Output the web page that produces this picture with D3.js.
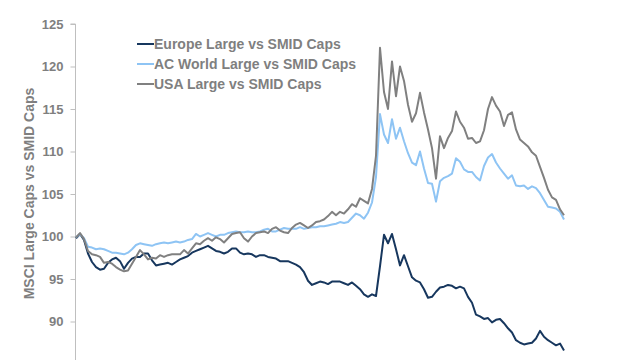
<!DOCTYPE html>
<html><head><meta charset="utf-8">
<script src="https://cdn.jsdelivr.net/npm/d3@7"></script>
<style>body{margin:0;background:#fff}svg{display:block}text{font-family:"Liberation Sans",Arial,sans-serif;font-weight:bold;fill:#7f7f7f}</style>
</head><body><svg id="c" width="640" height="360"></svg>
<script>
const seriesNames = ["Europe Large vs SMID Caps","AC World Large vs SMID Caps","USA Large vs SMID Caps"];
const seriesColors = ["#17375e","#8ec4f4","#808080"];
const yTicks = [85,90,95,100,105,110,115,120,125];
const europe = [99.8,100.3,99.6,98.0,97.0,96.4,96.1,96.2,96.9,97.3,97.5,97.1,96.2,96.9,97.4,97.6,97.6,98.0,98.0,97.2,96.6,96.7,96.8,96.9,96.7,97.0,97.3,97.5,97.7,98.1,98.3,98.5,98.7,98.9,98.6,98.3,98.2,98.0,98.2,98.6,98.6,98.1,97.9,98.0,97.9,97.6,97.8,97.8,97.6,97.5,97.4,97.1,97.1,97.1,96.9,96.7,96.4,95.8,94.8,94.3,94.5,94.7,94.6,94.4,94.7,94.7,94.7,94.5,94.3,94.6,94.2,93.8,93.2,92.9,93.2,93.0,96.5,100.2,99.2,100.3,98.5,96.6,97.8,96.5,95.2,94.8,94.6,93.8,92.8,92.9,93.5,94.0,94.1,94.3,94.2,93.9,94.1,93.9,92.9,92.2,90.8,90.6,90.3,90.4,89.9,90.2,90.3,89.8,89.2,88.7,87.8,87.5,87.3,87.4,87.5,88.0,88.9,88.2,87.8,87.5,87.2,87.4,86.6];
const acWorld = [99.9,100.3,99.8,98.8,98.7,98.5,98.6,98.5,98.3,98.1,98.1,98.0,97.9,98.1,98.5,99.0,99.2,99.1,99.0,98.9,99.1,99.2,99.3,99.2,99.3,99.4,99.3,99.4,99.6,99.7,100.3,100.0,100.2,100.4,100.2,100.0,100.2,100.2,100.4,100.5,100.6,100.5,100.5,100.6,100.5,100.5,100.6,100.8,100.9,100.6,100.6,100.8,101.0,100.9,100.9,100.9,101.1,100.9,101.0,101.1,101.1,101.2,101.2,101.3,101.4,101.5,101.7,101.6,101.7,102.2,102.7,102.5,102.1,102.8,104.0,107.0,114.4,112.0,111.0,113.8,111.5,112.8,111.2,109.8,108.7,108.4,110.0,108.0,106.3,106.2,104.1,106.5,106.9,107.1,107.4,109.2,108.8,107.9,107.6,107.6,107.0,106.6,108.3,109.3,109.7,108.7,108.0,107.4,106.8,107.2,106.0,105.9,106.0,105.6,105.9,105.7,105.1,104.3,103.5,103.4,103.3,102.9,102.0];
const usa = [99.9,100.4,99.7,98.3,97.9,97.8,97.6,96.9,97.0,96.8,96.4,96.1,95.9,96.0,96.8,97.6,98.4,97.9,97.3,97.5,97.4,97.8,97.6,97.8,97.9,97.9,97.9,98.4,98.0,98.6,99.2,99.1,99.5,99.8,99.5,99.9,99.7,99.3,99.8,100.3,100.4,100.5,99.8,99.4,100.0,100.4,100.5,100.6,100.4,100.9,101.1,100.7,100.5,100.4,101.0,101.4,101.6,101.3,101.0,101.3,101.7,101.8,102.0,102.4,102.9,102.5,102.9,102.7,103.2,103.8,103.5,104.5,104.2,103.9,105.6,109.5,122.2,117.0,115.0,120.6,116.5,120.0,118.3,115.5,113.5,114.5,116.9,114.6,112.6,110.4,106.8,111.8,110.4,111.6,112.4,114.7,113.5,112.8,111.5,111.6,111.0,111.2,112.5,115.0,116.4,115.4,114.7,113.0,114.3,114.6,112.6,111.4,111.0,110.6,109.9,109.5,108.2,106.9,105.5,104.6,104.3,103.2,102.5];
const allSeries = [europe, acWorld, usa];

const svg = d3.select("#c");
const n = europe.length;
const x = d3.scaleLinear().domain([0, n-1]).range([76, 564]);
const y = d3.scaleLinear().domain([85,125]).range([364, 24]);

const yAxis = d3.axisLeft(y).tickValues(yTicks).tickSize(5).tickPadding(7);
const g = svg.append("g").attr("transform","translate(75.5,0)").call(yAxis);
g.select(".domain").attr("stroke","#bfbfbf").attr("d","M-0,"+y(85)+"V"+y(125)+"H-5").attr("stroke-width",1);
g.selectAll(".tick line").attr("stroke","#bfbfbf");
g.selectAll(".tick text").attr("font-size",13).attr("font-family","Liberation Sans, Arial, sans-serif").attr("font-weight","bold").attr("fill","#7f7f7f");

svg.append("text").attr("transform","translate(34,193.5) rotate(-90)").attr("text-anchor","middle").attr("font-size",14).text("MSCI Large Caps vs SMID Caps");

const line = d3.line().x((d,i)=>x(i)).y(d=>y(d));
allSeries.forEach((s,k)=>{
  svg.append("path").datum(s).attr("d",line).attr("fill","none").attr("stroke",seriesColors[k]).attr("stroke-width",2).attr("stroke-linejoin","round");
});

const leg = svg.append("g");
seriesNames.forEach((name,k)=>{
  const yy = 44 + k*20;
  leg.append("line").attr("x1",137).attr("x2",154).attr("y1",yy).attr("y2",yy).attr("stroke",seriesColors[k]).attr("stroke-width",2);
  leg.append("text").attr("x",154).attr("y",yy+5).attr("font-size",14).text(name);
});
</script></body></html>
